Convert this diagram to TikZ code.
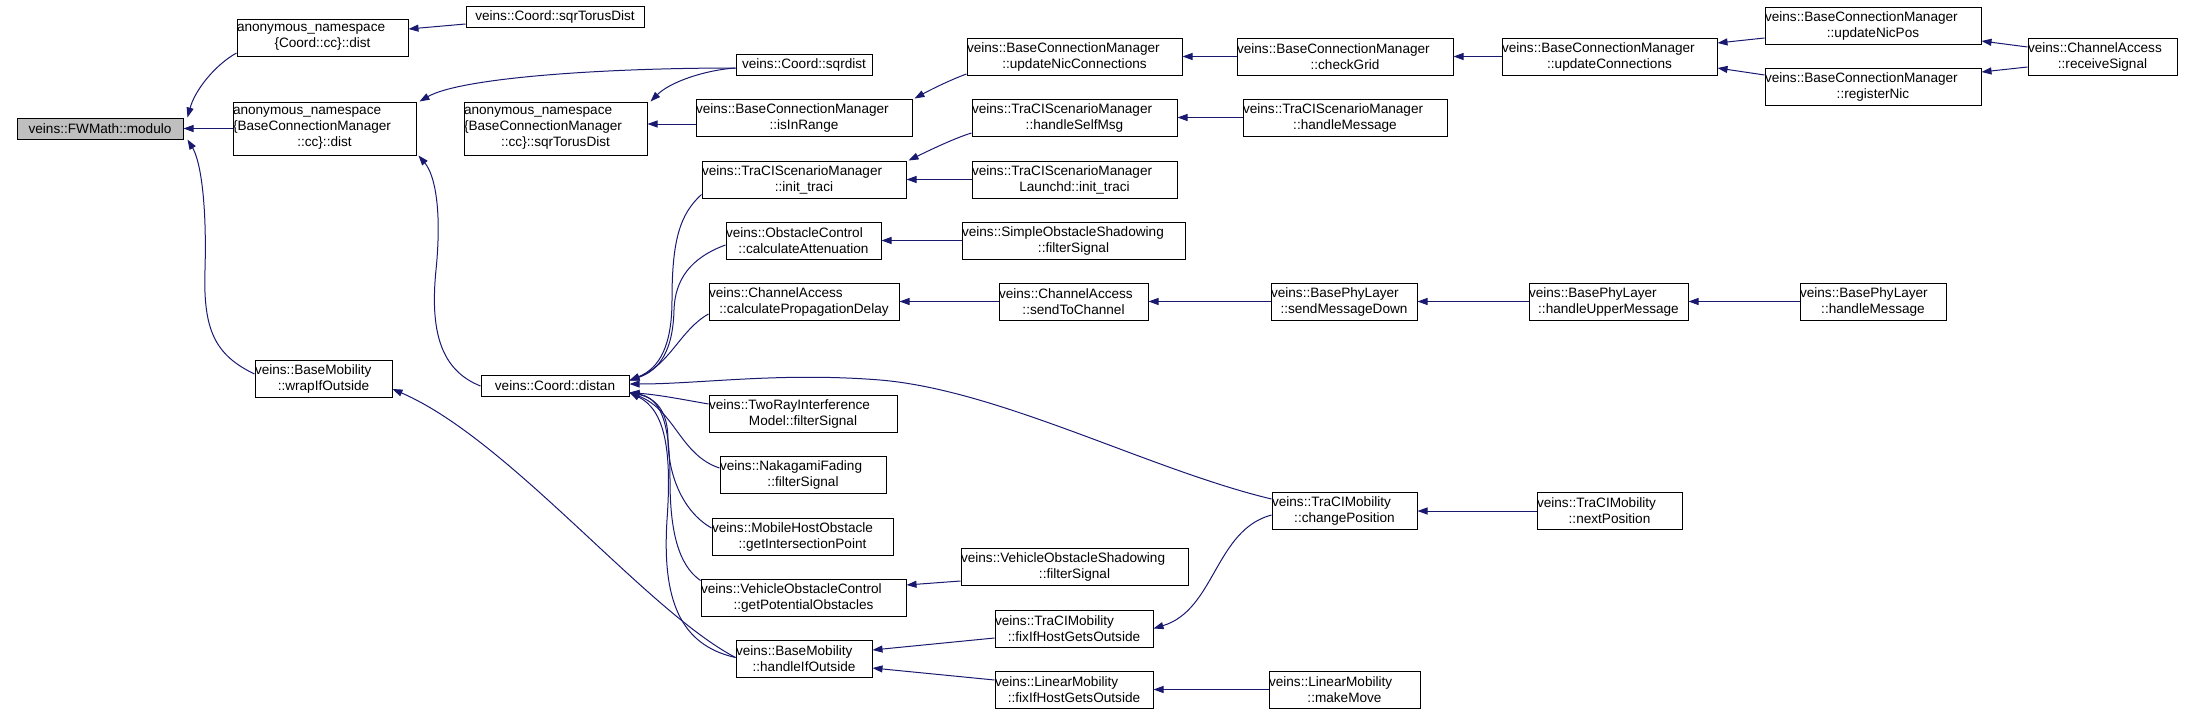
\documentclass[tikz,border=0pt]{standalone}
\usepackage{fontspec}
\setmainfont{Liberation Sans}
\usepackage{xcolor}
\usetikzlibrary{arrows.meta}
\definecolor{edgeblue}{RGB}{25,25,112}
\newcommand\fnfont{\fontsize{13.6}{16}\selectfont}
\newcommand\twoline[2]{\makebox[\hsize][l]{#1}\\#2}
\newcommand\threeline[3]{\makebox[\hsize][l]{#1}\\\makebox[\hsize][l]{#2}\\#3}

\begin{document}
\begin{tikzpicture}[x=1pt,y=-1pt,>={Triangle[length=10pt,width=7pt]},line width=1pt,
  fnbox/.style={draw,inner sep=0pt,text width=#1,align=center,minimum height=37pt,font=\fnfont},
  fnline/.style={fnbox=#1,minimum height=21pt},
  call/.style={->,draw=edgeblue}]
\useasboundingbox (0,0) rectangle (2193,715);
\node[fnline=166pt,fill=gray!50] (modulo) at (100,128.5) {veins::FWMath::modulo};
\node[fnbox=171pt] (anonCoordDist) at (322.5,37.5) {\twoline{anonymous\_namespace}{\{Coord::cc\}::dist}};
\node[fnline=178pt] (coordSqrTorus) at (555,16.5) {veins::Coord::sqrTorusDist};
\node[fnbox=183pt,minimum height=53pt] (anonBCMDist) at (324.5,128.5) {\threeline{anonymous\_namespace}{\{BaseConnectionManager}{::cc\}::dist}};
\node[fnbox=183pt,minimum height=53pt] (anonBCMTorus) at (555.5,128.5) {\threeline{anonymous\_namespace}{\{BaseConnectionManager}{::cc\}::sqrTorusDist}};
\node[fnline=136pt] (sqrdist) at (804,64.5) {veins::Coord::sqrdist};
\node[fnbox=215pt] (updNicConn) at (1074.5,56.5) {\twoline{veins::BaseConnectionManager}{::updateNicConnections}};
\node[fnbox=216pt] (checkGrid) at (1345,56.5) {\twoline{veins::BaseConnectionManager}{::checkGrid}};
\node[fnbox=215pt] (updConn) at (1609.5,56.5) {\twoline{veins::BaseConnectionManager}{::updateConnections}};
\node[fnbox=216pt] (updNicPos) at (1873,25.5) {\twoline{veins::BaseConnectionManager}{::updateNicPos}};
\node[fnbox=216pt] (registerNic) at (1873,87) {\twoline{veins::BaseConnectionManager}{::registerNic}};
\node[fnbox=149pt] (recvSignal) at (2102.5,56.5) {\twoline{veins::ChannelAccess}{::receiveSignal}};
\node[fnbox=216pt] (isInRange) at (804,117.5) {\twoline{veins::BaseConnectionManager}{::isInRange}};
\node[fnbox=205pt] (selfMsg) at (1074.5,117.5) {\twoline{veins::TraCIScenarioManager}{::handleSelfMsg}};
\node[fnbox=204pt] (scenMsg) at (1345,117.5) {\twoline{veins::TraCIScenarioManager}{::handleMessage}};
\node[fnbox=204pt] (initTraci) at (804,179.5) {\twoline{veins::TraCIScenarioManager}{::init\_traci}};
\node[fnbox=205pt] (launchdInit) at (1074.5,179.5) {\twoline{veins::TraCIScenarioManager}{Launchd::init\_traci}};
\node[fnbox=155pt] (calcAtt) at (803.5,240.5) {\twoline{veins::ObstacleControl}{::calculateAttenuation}};
\node[fnbox=223pt] (simpleShadow) at (1073.5,240.5) {\twoline{veins::SimpleObstacleShadowing}{::filterSignal}};
\node[fnbox=190pt] (calcProp) at (804,301.5) {\twoline{veins::ChannelAccess}{::calculatePropagationDelay}};
\node[fnbox=149pt] (sendToChan) at (1073.5,301.5) {\twoline{veins::ChannelAccess}{::sendToChannel}};
\node[fnbox=146pt] (sendDown) at (1344,301.5) {\twoline{veins::BasePhyLayer}{::sendMessageDown}};
\node[fnbox=159pt] (upperMsg) at (1608.5,301.5) {\twoline{veins::BasePhyLayer}{::handleUpperMessage}};
\node[fnbox=146pt] (phyMsg) at (1873,301.5) {\twoline{veins::BasePhyLayer}{::handleMessage}};
\node[fnbox=137pt] (wrapOutside) at (323.5,379) {\twoline{veins::BaseMobility}{::wrapIfOutside}};
\node[fnline=148pt] (distance) at (555,385.5) {veins::Coord::distan};
\node[fnbox=188pt] (twoRay) at (803,413.5) {\twoline{veins::TwoRayInterference}{Model::filterSignal}};
\node[fnbox=166pt] (nakagami) at (803,475) {\twoline{veins::NakagamiFading}{::filterSignal}};
\node[fnbox=181pt] (mobileHost) at (802.5,536.5) {\twoline{veins::MobileHostObstacle}{::getIntersectionPoint}};
\node[fnbox=227pt] (vehShadow) at (1074.5,567) {\twoline{veins::VehicleObstacleShadowing}{::filterSignal}};
\node[fnbox=205pt] (vehControl) at (803.5,597.5) {\twoline{veins::VehicleObstacleControl}{::getPotentialObstacles}};
\node[fnbox=158pt] (traciFix) at (1074,628.5) {\twoline{veins::TraCIMobility}{::fixIfHostGetsOutside}};
\node[fnbox=136pt] (handleOutside) at (804,659) {\twoline{veins::BaseMobility}{::handleIfOutside}};
\node[fnbox=158pt] (linearFix) at (1074,689.5) {\twoline{veins::LinearMobility}{::fixIfHostGetsOutside}};
\node[fnbox=145pt] (changePos) at (1344.5,511) {\twoline{veins::TraCIMobility}{::changePosition}};
\node[fnbox=151pt] (makeMove) at (1344.5,689.5) {\twoline{veins::LinearMobility}{::makeMove}};
\node[fnbox=145pt] (nextPos) at (1609.5,511) {\twoline{veins::TraCIMobility}{::nextPosition}};
\draw[call] ([yshift=-15.5pt]anonCoordDist.west) .. controls (215,65) and (195,90) .. ([xshift=4pt]modulo.north east);
\draw[call] (anonBCMDist.west) -- (modulo.east);
\draw[call] ([yshift=5pt]wrapOutside.west) .. controls (215,355) and (203,330) .. (205,270) .. controls (207,200) and (200,160) .. ([xshift=4pt]modulo.south east);
\draw[call] ([yshift=-7.5pt]coordSqrTorus.west) -- ([yshift=8.5pt]anonCoordDist.east);
\draw[call] ([yshift=-3.5pt]sqrdist.west) .. controls (600,68) and (460,78) .. ([xshift=3pt]anonBCMDist.north east);
\draw[call] ([yshift=-3.5pt]sqrdist.west) .. controls (705,70) and (670,82) .. ([xshift=3pt]anonBCMTorus.north east);
\draw[call] ([yshift=-6.5pt]isInRange.west) -- ([yshift=4.5pt]anonBCMTorus.east);
\draw[call] ([yshift=-0.5pt]distance.west) .. controls (440,370) and (430,330) .. (436,270) .. controls (442,210) and (435,175) .. ([xshift=2pt]anonBCMDist.south east);
\draw[call] ([yshift=-17.5pt]updNicConn.west) .. controls (950,80) and (930,90) .. ([xshift=2pt]isInRange.north east);
\draw[call] (checkGrid.west) -- (updNicConn.east);
\draw[call] (updConn.west) -- (checkGrid.east);
\draw[call] ([yshift=-12.5pt]updNicPos.west) -- ([yshift=13.5pt]updConn.east);
\draw[call] ([yshift=12pt]registerNic.west) -- ([yshift=-11.5pt]updConn.east);
\draw[call] ([yshift=9.5pt]recvSignal.west) -- ([yshift=-15.5pt]updNicPos.east);
\draw[call] ([yshift=-10.5pt]recvSignal.west) -- ([yshift=15pt]registerNic.east);
\draw[call] ([yshift=-15.5pt]selfMsg.west) .. controls (955,138) and (930,150) .. ([xshift=2pt]initTraci.north east);
\draw[call] (scenMsg.west) -- (selfMsg.east);
\draw[call] (launchdInit.west) -- (initTraci.east);
\draw[call] (simpleShadow.west) -- (calcAtt.east);
\draw[call] (sendToChan.west) -- (calcProp.east);
\draw[call] (sendDown.west) -- (sendToChan.east);
\draw[call] (upperMsg.west) -- (sendDown.east);
\draw[call] (phyMsg.west) -- (upperMsg.east);
\draw[call] ([yshift=-15pt]initTraci.west) .. controls (680,214) and (672,240) .. (672,300) .. controls (672,345) and (660,368) .. ([yshift=5pt]distance.east);
\draw[call] ([yshift=-4.5pt]calcAtt.west) .. controls (690,258) and (675,280) .. (674,310) .. controls (673,350) and (660,370) .. ([yshift=5pt]distance.east);
\draw[call] ([yshift=-12.5pt]calcProp.west) .. controls (680,330) and (670,365) .. ([yshift=5pt]distance.east);
\draw[call] ([yshift=12pt]changePos.west) .. controls (1150,470) and (1000,390) .. (880,380) .. controls (780,372) and (700,384) .. ([yshift=1.5pt]distance.east);
\draw[call] ([yshift=9.5pt]twoRay.west) .. controls (680,399) and (660,395) .. ([yshift=-7pt]distance.east);
\draw[call] ([yshift=7pt]nakagami.west) .. controls (680,455) and (675,410) .. ([yshift=-7pt]distance.east);
\draw[call] ([yshift=8.5pt]mobileHost.west) .. controls (680,510) and (668,470) .. (668,440) .. controls (668,410) and (655,398) .. ([yshift=-7pt]distance.east);
\draw[call] ([yshift=17pt]vehControl.west) .. controls (678,565) and (670,530) .. (670,480) .. controls (670,420) and (660,398) .. ([yshift=-7pt]distance.east);
\draw[call] ([yshift=1.5pt]handleOutside.west) .. controls (680,645) and (662,600) .. (667,520) .. controls (672,450) and (665,410) .. ([yshift=-7pt]distance.east);
\draw[call] ([yshift=1.5pt]handleOutside.west) .. controls (645,610) and (510,440) .. ([yshift=-10pt]wrapOutside.east);
\draw[call] ([yshift=-14pt]vehShadow.west) -- ([yshift=12.5pt]vehControl.east);
\draw[call] ([yshift=-9.5pt]traciFix.west) -- ([yshift=9pt]handleOutside.east);
\draw[call] ([yshift=9.5pt]linearFix.west) -- ([yshift=-9pt]handleOutside.east);
\draw[call] ([yshift=-4pt]changePos.west) .. controls (1215,530) and (1215,610) .. (traciFix.east);
\draw[call] (nextPos.west) -- (changePos.east);
\draw[call] (makeMove.west) -- (linearFix.east);
\end{tikzpicture}
\end{document}
